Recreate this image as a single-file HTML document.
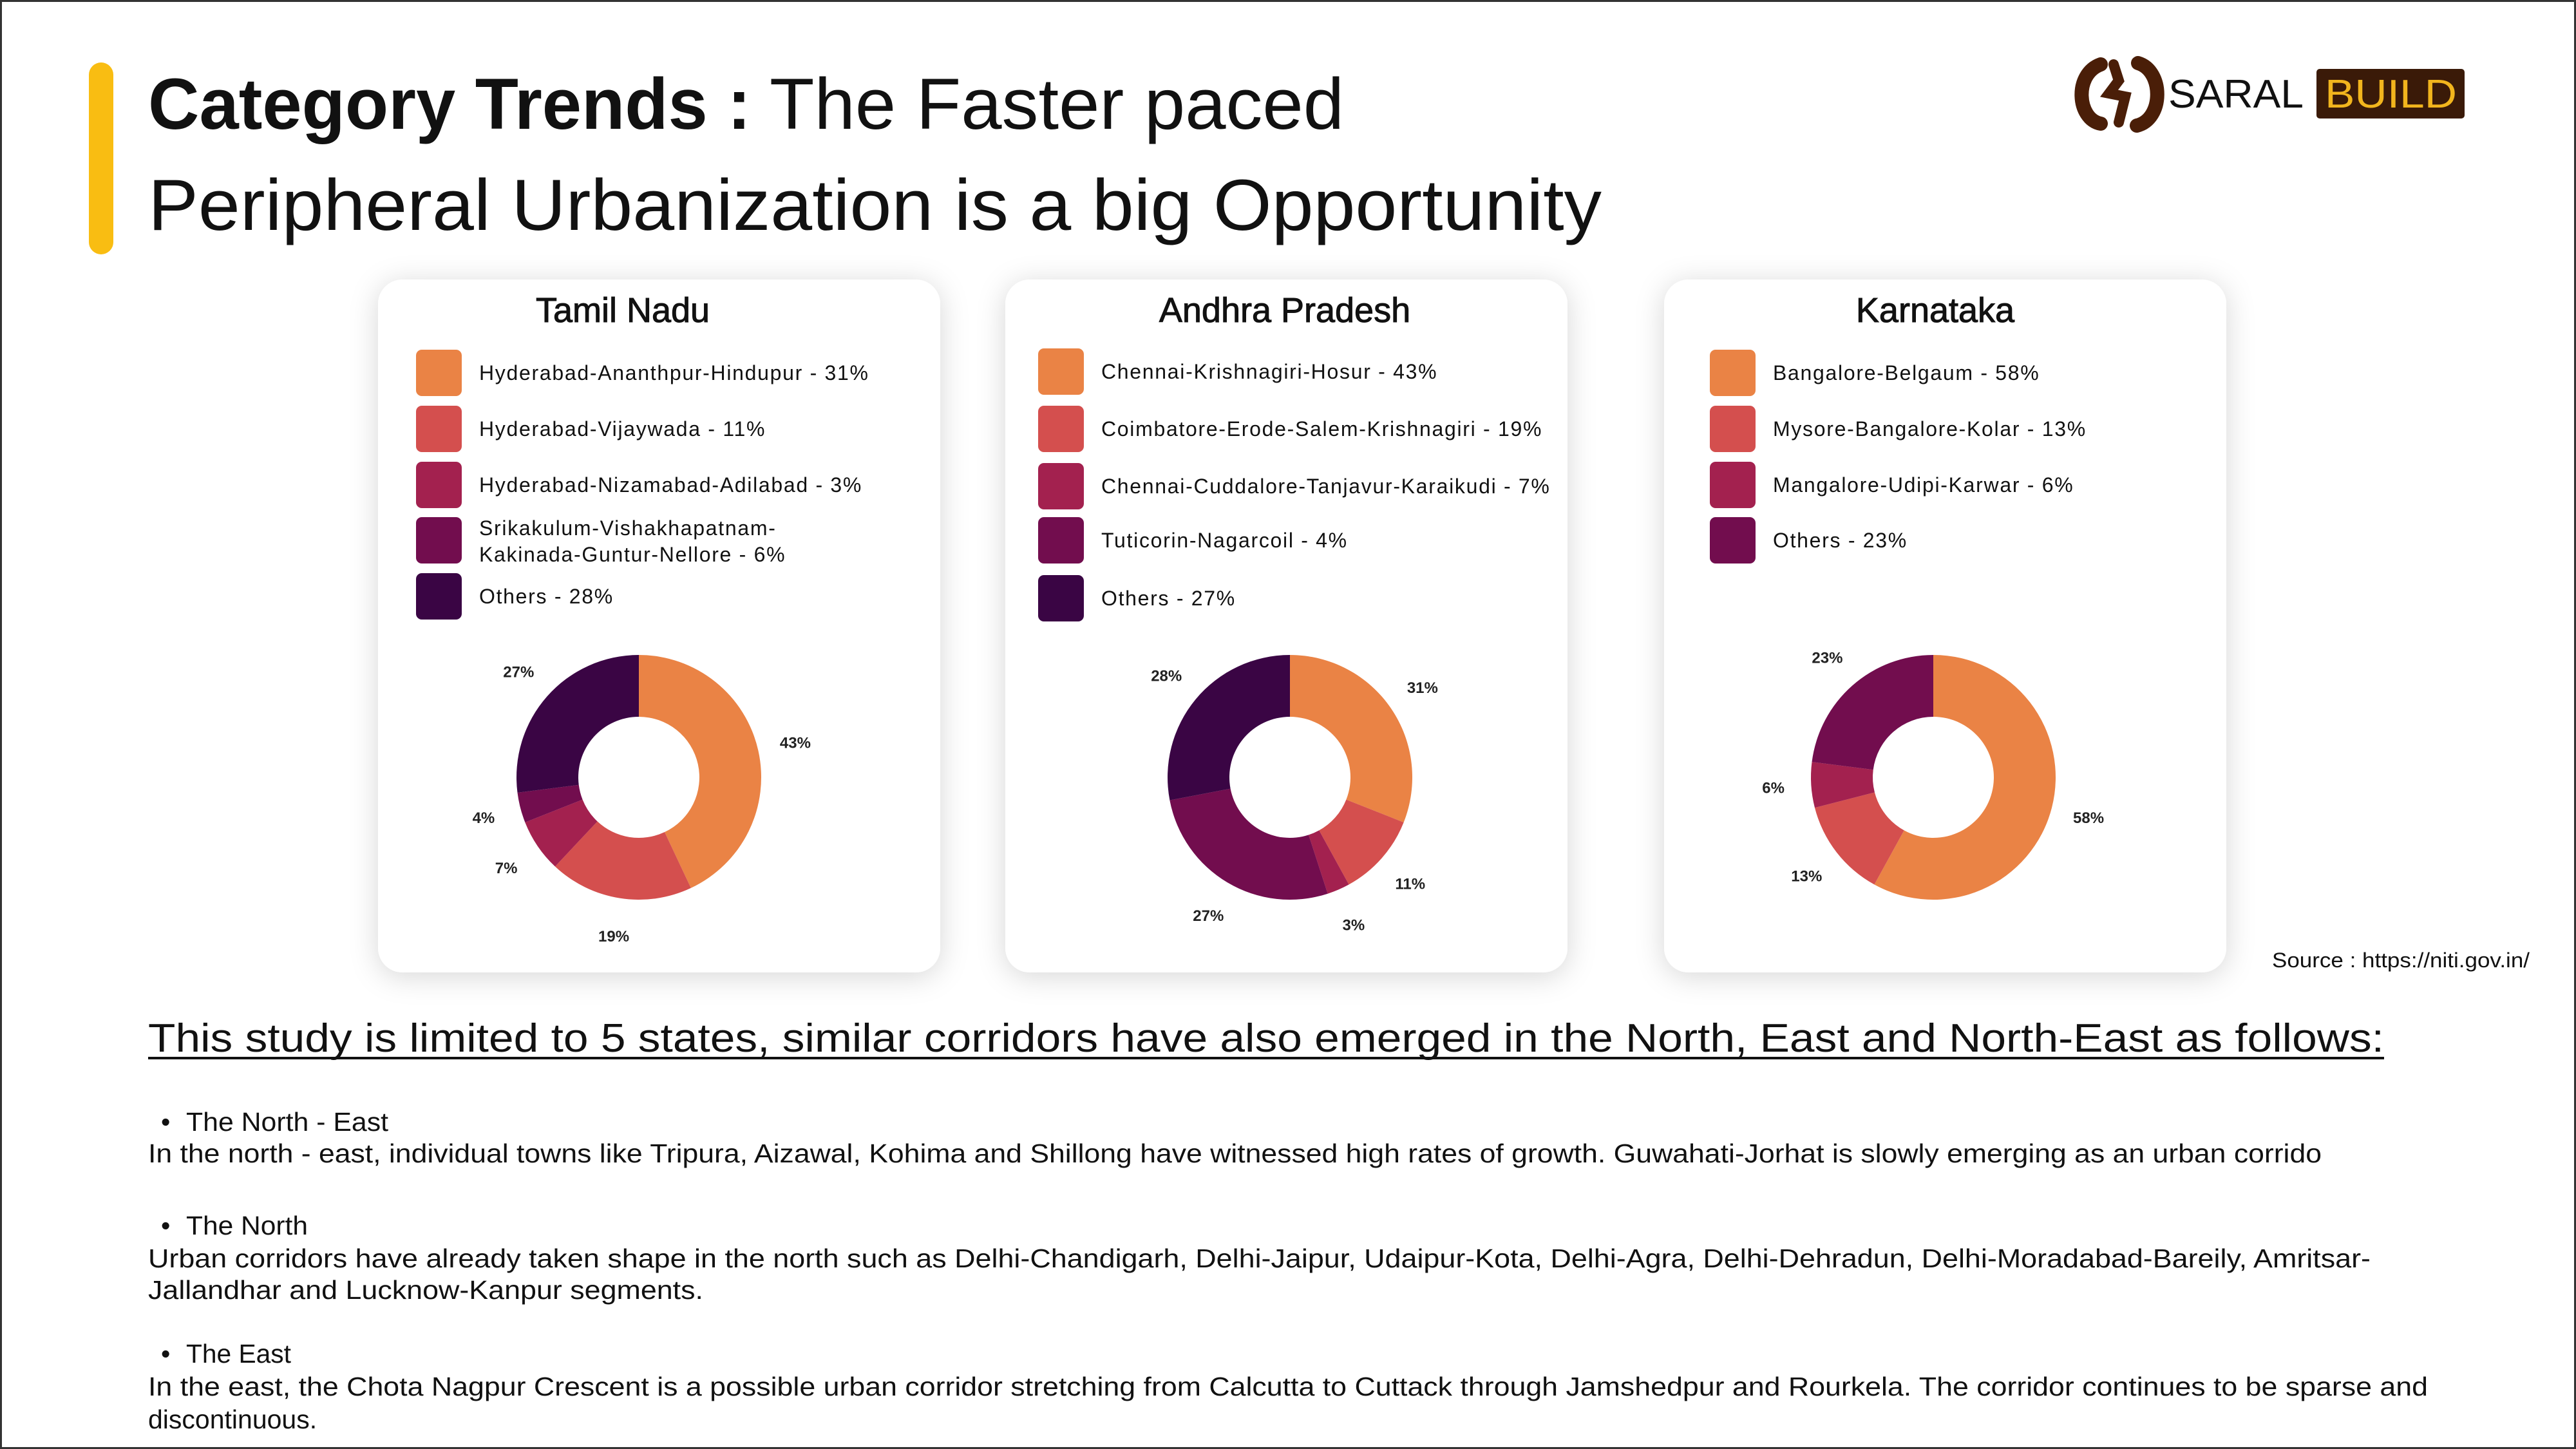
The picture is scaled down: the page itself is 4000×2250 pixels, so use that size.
<!DOCTYPE html>
<html><head><meta charset="utf-8"><style>
html,body{margin:0;padding:0;background:#fff}
svg{display:block}
</style></head><body>
<svg id="root" xmlns="http://www.w3.org/2000/svg" width="4000" height="2250" viewBox="0 0 4000 2250" font-family="'Liberation Sans', sans-serif">
<defs>
<filter id="sh" x="-20%" y="-20%" width="140%" height="140%">
<feDropShadow dx="0" dy="6" stdDeviation="22" flood-color="#000" flood-opacity="0.16"/>
</filter>
</defs>
<rect x="1.5" y="1.5" width="3997" height="2247" fill="#fff" stroke="#333" stroke-width="3"/>
<rect x="138" y="97" width="38" height="298" rx="19" fill="#f9bd12"/>
<text x="230" y="200" font-size="112" font-weight="bold" fill="#111" textLength="936" lengthAdjust="spacingAndGlyphs">Category Trends :</text>
<text x="1195" y="200" font-size="112" fill="#111" textLength="892" lengthAdjust="spacingAndGlyphs">The Faster paced</text>
<text x="230" y="357" font-size="112" fill="#111" textLength="2257" lengthAdjust="spacingAndGlyphs">Peripheral Urbanization is a big Opportunity</text>

<g>
<path d="M3262 100 C3220 115 3225 185 3262 192 M3320 98 C3360 110 3360 185 3318 195" fill="none" stroke="#4a1e08" stroke-width="22" stroke-linecap="round"/>
<path d="M3282 100 L3290 125 L3275 145 L3300 150 L3290 190" fill="none" stroke="#4a1e08" stroke-width="16" stroke-linecap="round"/>
<text x="3367" y="167" font-size="62" fill="#111" textLength="210" lengthAdjust="spacingAndGlyphs">SARAL</text>
<rect x="3597" y="107" width="230" height="77" rx="5" fill="#3a1a08"/>
<text x="3610" y="167" font-size="62" fill="#f2b51d" textLength="205" lengthAdjust="spacingAndGlyphs">BUILD</text>
</g>

<g id="cards"></g>

<text x="3528" y="1502" font-size="32" fill="#111" textLength="400" lengthAdjust="spacingAndGlyphs">Source : https://niti.gov.in/</text>

<text x="230" y="1633" font-size="62" fill="#111" textLength="3472" lengthAdjust="spacingAndGlyphs">This study is limited to 5 states, similar corridors have also emerged in the North, East and North-East as follows:</text>
<line x1="230" y1="1643" x2="3702" y2="1643" stroke="#111" stroke-width="4"/>

<g font-size="41" fill="#111">
<text x="250" y="1756">•</text>
<text x="289" y="1756" textLength="314" lengthAdjust="spacingAndGlyphs">The North - East</text>
<text x="230" y="1805" textLength="3375" lengthAdjust="spacingAndGlyphs">In the north - east, individual towns like Tripura, Aizawal, Kohima and Shillong have witnessed high rates of growth. Guwahati-Jorhat is slowly emerging as an urban corrido</text>
<text x="250" y="1917">•</text>
<text x="289" y="1917" textLength="189" lengthAdjust="spacingAndGlyphs">The North</text>
<text x="230" y="1968" textLength="3451" lengthAdjust="spacingAndGlyphs">Urban corridors have already taken shape in the north such as Delhi-Chandigarh, Delhi-Jaipur, Udaipur-Kota, Delhi-Agra, Delhi-Dehradun, Delhi-Moradabad-Bareily, Amritsar-</text>
<text x="230" y="2017" textLength="862" lengthAdjust="spacingAndGlyphs">Jallandhar and Lucknow-Kanpur segments.</text>
<text x="250" y="2116">•</text>
<text x="289" y="2116" textLength="163" lengthAdjust="spacingAndGlyphs">The East</text>
<text x="230" y="2167" textLength="3540" lengthAdjust="spacingAndGlyphs">In the east, the Chota Nagpur Crescent is a possible urban corridor stretching from Calcutta to Cuttack through Jamshedpur and Rourkela. The corridor continues to be sparse and</text>
<text x="230" y="2218">discontinuous.</text>
</g>
</svg>
<script>
// ---- data ----
const stateNames = ["Tamil Nadu", "Andhra Pradesh", "Karnataka"];
const tnValues = [43, 19, 7, 4, 27];
const apValues = [31, 11, 3, 27, 28];
const kaValues = [58, 13, 6, 23];
const tnLegend = ["Hyderabad-Ananthpur-Hindupur - 31%", "Hyderabad-Vijaywada - 11%", "Hyderabad-Nizamabad-Adilabad - 3%", "Srikakulum-Vishakhapatnam-|Kakinada-Guntur-Nellore - 6%", "Others - 28%"];
const apLegend = ["Chennai-Krishnagiri-Hosur - 43%", "Coimbatore-Erode-Salem-Krishnagiri - 19%", "Chennai-Cuddalore-Tanjavur-Karaikudi - 7%", "Tuticorin-Nagarcoil - 4%", "Others - 27%"];
const kaLegend = ["Bangalore-Belgaum - 58%", "Mysore-Bangalore-Kolar - 13%", "Mangalore-Udipi-Karwar - 6%", "Others - 23%"];

const NS = "http://www.w3.org/2000/svg";
const palette5 = ["#ea8345", "#d44f4e", "#a3214f", "#720d4e", "#3a0544"];
const palette4 = ["#ea8345", "#d44f4e", "#a3214f", "#720d4e"];
const cardX = [587, 1561, 2584];
const titleX = [967, 1995, 3005];

function mk(tag, attrs, parent) {
  const e = document.createElementNS(NS, tag);
  for (const k in attrs) e.setAttribute(k, attrs[k]);
  parent.appendChild(e);
  return e;
}
function angleOf(cum, total) { return cum / total * Math.PI * 2; }
function arcPath(cx, cy, R, r, a0, a1) {
  const p = (rad, a) => [cx + rad * Math.sin(a), cy - rad * Math.cos(a)];
  const large = (a1 - a0) > Math.PI ? 1 : 0;
  const [x0, y0] = p(R, a0), [x1, y1] = p(R, a1), [x2, y2] = p(r, a1), [x3, y3] = p(r, a0);
  return `M${x0} ${y0} A${R} ${R} 0 ${large} 1 ${x1} ${y1} L${x2} ${y2} A${r} ${r} 0 ${large} 0 ${x3} ${y3} Z`;
}

const cards = document.getElementById('cards');
const allValues = [tnValues, apValues, kaValues];
const allLegends = [tnLegend, apLegend, kaLegend];
const allPalettes = [palette5, palette5, palette4];
const legendYs = [[579, 666, 753, 839, 926], [577, 666, 755, 839, 929], [579, 666, 753, 839]];

stateNames.forEach((name, ci) => {
  const x = cardX[ci];
  const g = mk('g', {}, cards);
  
  
  const rc = mk('rect', { x: x, y: 434, width: 873, height: 1076, rx: 38, fill: '#fff', filter: 'url(#sh)' }, g);
  
  
  const t = mk('text', { x: titleX[ci], y: 500, 'font-size': 54, 'text-anchor': 'middle', fill: '#111', stroke: '#111', 'stroke-width': 1 }, g);
  t.textContent = name;
  
  

  const values = allValues[ci], legend = allLegends[ci], pal = allPalettes[ci];
  const swX = x + (ci === 2 ? 71 : ci === 1 ? 51 : 59);
  legend.forEach((lab, i) => {
    const y = legendYs[ci][i];
    const sw = mk('rect', { x: swX, y: y - 36, width: 71, height: 72, rx: 9, fill: pal[i] }, g);
    
    
    const lines = lab.split('|');
    lines.forEach((ln, li) => {
      const ty = lines.length > 1 ? y - 8 + li * 41 : y + 11;
      const tx = mk('text', { x: swX + 98, y: ty, 'font-size': 32, fill: '#111', 'letter-spacing': '1.7' }, g);
      tx.textContent = ln;
      
      
    });
  });

  const cx = x + 405 + (ci === 2 ? 13 : 0) + (ci === 1 ? 37 : 0), cy = 1207;
  const R = 190, r = 94;
  const total = values.reduce((a, b) => a + b, 0);
  let cum = 0;
  values.forEach((v, i) => {
    const a0 = angleOf(cum, total), a1 = angleOf(cum + v, total);
    const sl = mk('path', { d: arcPath(cx, cy, R, r, a0, a1), fill: pal[i] }, g);
    
    
    const am = (a0 + a1) / 2, lr = R * 1.31;
    const lb = mk('text', { x: cx + lr * Math.sin(am), y: cy - lr * Math.cos(am) + 9, 'font-size': 24, 'font-weight': 'bold', 'text-anchor': 'middle', fill: '#222' }, g);
    lb.textContent = v + '%';
    
    
    cum += v;
  });
});
</script>
</body></html>
